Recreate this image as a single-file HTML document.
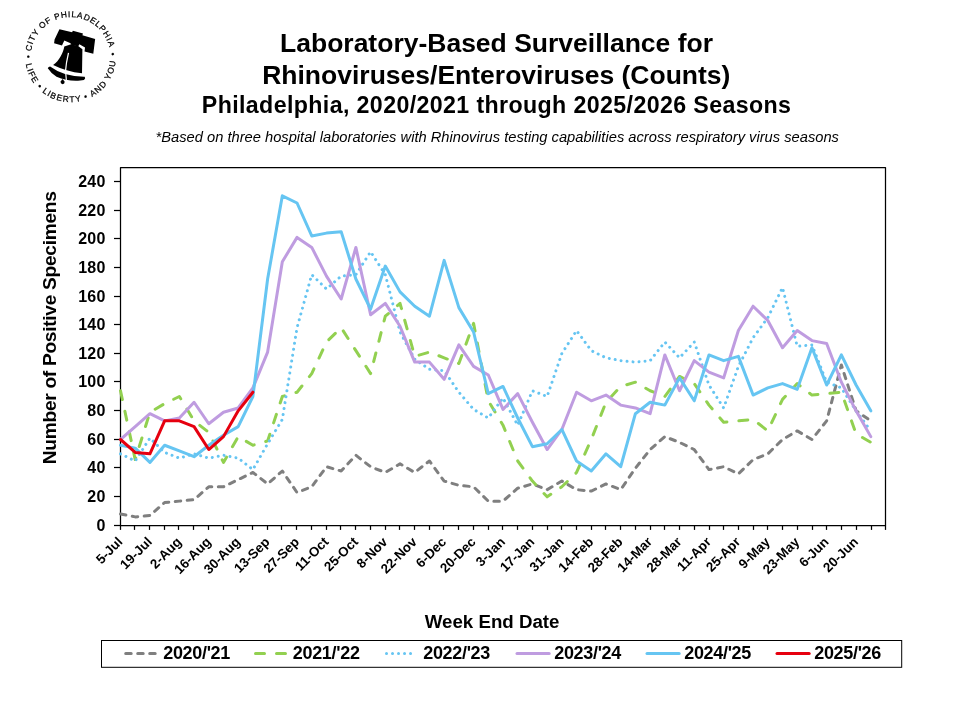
<!DOCTYPE html>
<html lang="en"><head><meta charset="utf-8"><title>Laboratory-Based Surveillance for Rhinoviruses/Enteroviruses (Counts)</title>
<style>
html,body{margin:0;padding:0;background:#fff;}
body{width:960px;height:720px;overflow:hidden;}
svg{display:block;will-change:transform;}
text{font-family:"Liberation Sans",Arial,Helvetica,sans-serif;fill:#000;}
.b{font-weight:bold;}
.ser{fill:none;stroke-width:3;stroke-linecap:round;stroke-linejoin:round;}
</style></head><body>
<svg width="960" height="720" viewBox="0 0 960 720">
<rect width="960" height="720" fill="#fff"/>

<text class="b" x="496.5" y="51.9" font-size="26.5" text-anchor="middle">Laboratory-Based Surveillance for</text>
<text class="b" x="496.3" y="83.9" font-size="26.5" text-anchor="middle">Rhinoviruses/Enteroviruses (Counts)</text>
<text class="b" x="496.6" y="113.2" font-size="23.2" letter-spacing="0.38" text-anchor="middle">Philadelphia, 2020/2021 through 2025/2026 Seasons</text>
<text x="497.25" y="142.1" font-size="14.69" font-style="italic" text-anchor="middle">*Based on three hospital laboratories with Rhinovirus testing capabilities across respiratory virus seasons</text>
<text class="b" font-size="19.2" letter-spacing="-0.31" text-anchor="middle" transform="translate(56.3,327.8) rotate(-90)">Number of Positive Specimens</text>
<text class="b" x="492.1" y="628.2" font-size="18.7" text-anchor="middle">Week End Date</text>
<rect x="120.5" y="167.5" width="765.0" height="358.0" fill="#fff" stroke="#000" stroke-width="1.25" stroke-linejoin="round"/>
<g stroke="#000" stroke-width="1.25"><line x1="114" y1="525.50" x2="120.5" y2="525.50"/><line x1="114" y1="496.50" x2="120.5" y2="496.50"/><line x1="114" y1="467.50" x2="120.5" y2="467.50"/><line x1="114" y1="439.50" x2="120.5" y2="439.50"/><line x1="114" y1="410.50" x2="120.5" y2="410.50"/><line x1="114" y1="381.50" x2="120.5" y2="381.50"/><line x1="114" y1="353.50" x2="120.5" y2="353.50"/><line x1="114" y1="324.50" x2="120.5" y2="324.50"/><line x1="114" y1="296.50" x2="120.5" y2="296.50"/><line x1="114" y1="267.50" x2="120.5" y2="267.50"/><line x1="114" y1="238.50" x2="120.5" y2="238.50"/><line x1="114" y1="210.50" x2="120.5" y2="210.50"/><line x1="114" y1="181.50" x2="120.5" y2="181.50"/><line x1="120.50" y1="525.5" x2="120.50" y2="529.9"/><line x1="134.50" y1="525.5" x2="134.50" y2="529.9"/><line x1="149.50" y1="525.5" x2="149.50" y2="529.9"/><line x1="164.50" y1="525.5" x2="164.50" y2="529.9"/><line x1="178.50" y1="525.5" x2="178.50" y2="529.9"/><line x1="193.50" y1="525.5" x2="193.50" y2="529.9"/><line x1="208.50" y1="525.5" x2="208.50" y2="529.9"/><line x1="223.50" y1="525.5" x2="223.50" y2="529.9"/><line x1="237.50" y1="525.5" x2="237.50" y2="529.9"/><line x1="252.50" y1="525.5" x2="252.50" y2="529.9"/><line x1="267.50" y1="525.5" x2="267.50" y2="529.9"/><line x1="281.50" y1="525.5" x2="281.50" y2="529.9"/><line x1="296.50" y1="525.5" x2="296.50" y2="529.9"/><line x1="311.50" y1="525.5" x2="311.50" y2="529.9"/><line x1="326.50" y1="525.5" x2="326.50" y2="529.9"/><line x1="340.50" y1="525.5" x2="340.50" y2="529.9"/><line x1="355.50" y1="525.5" x2="355.50" y2="529.9"/><line x1="370.50" y1="525.5" x2="370.50" y2="529.9"/><line x1="385.50" y1="525.5" x2="385.50" y2="529.9"/><line x1="399.50" y1="525.5" x2="399.50" y2="529.9"/><line x1="414.50" y1="525.5" x2="414.50" y2="529.9"/><line x1="429.50" y1="525.5" x2="429.50" y2="529.9"/><line x1="443.50" y1="525.5" x2="443.50" y2="529.9"/><line x1="458.50" y1="525.5" x2="458.50" y2="529.9"/><line x1="473.50" y1="525.5" x2="473.50" y2="529.9"/><line x1="488.50" y1="525.5" x2="488.50" y2="529.9"/><line x1="502.50" y1="525.5" x2="502.50" y2="529.9"/><line x1="517.50" y1="525.5" x2="517.50" y2="529.9"/><line x1="532.50" y1="525.5" x2="532.50" y2="529.9"/><line x1="547.50" y1="525.5" x2="547.50" y2="529.9"/><line x1="561.50" y1="525.5" x2="561.50" y2="529.9"/><line x1="576.50" y1="525.5" x2="576.50" y2="529.9"/><line x1="591.50" y1="525.5" x2="591.50" y2="529.9"/><line x1="605.50" y1="525.5" x2="605.50" y2="529.9"/><line x1="620.50" y1="525.5" x2="620.50" y2="529.9"/><line x1="635.50" y1="525.5" x2="635.50" y2="529.9"/><line x1="650.50" y1="525.5" x2="650.50" y2="529.9"/><line x1="664.50" y1="525.5" x2="664.50" y2="529.9"/><line x1="679.50" y1="525.5" x2="679.50" y2="529.9"/><line x1="694.50" y1="525.5" x2="694.50" y2="529.9"/><line x1="709.50" y1="525.5" x2="709.50" y2="529.9"/><line x1="723.50" y1="525.5" x2="723.50" y2="529.9"/><line x1="738.50" y1="525.5" x2="738.50" y2="529.9"/><line x1="753.50" y1="525.5" x2="753.50" y2="529.9"/><line x1="767.50" y1="525.5" x2="767.50" y2="529.9"/><line x1="782.50" y1="525.5" x2="782.50" y2="529.9"/><line x1="797.50" y1="525.5" x2="797.50" y2="529.9"/><line x1="812.50" y1="525.5" x2="812.50" y2="529.9"/><line x1="826.50" y1="525.5" x2="826.50" y2="529.9"/><line x1="841.50" y1="525.5" x2="841.50" y2="529.9"/><line x1="856.50" y1="525.5" x2="856.50" y2="529.9"/><line x1="871.50" y1="525.5" x2="871.50" y2="529.9"/><line x1="885.50" y1="525.5" x2="885.50" y2="529.9"/></g>
<text class="b" x="105.6" y="531.00" font-size="16" letter-spacing="0.25" text-anchor="end">0</text>
<text class="b" x="105.6" y="502.00" font-size="16" letter-spacing="0.25" text-anchor="end">20</text>
<text class="b" x="105.6" y="473.00" font-size="16" letter-spacing="0.25" text-anchor="end">40</text>
<text class="b" x="105.6" y="445.00" font-size="16" letter-spacing="0.25" text-anchor="end">60</text>
<text class="b" x="105.6" y="416.00" font-size="16" letter-spacing="0.25" text-anchor="end">80</text>
<text class="b" x="105.6" y="387.00" font-size="16" letter-spacing="0.25" text-anchor="end">100</text>
<text class="b" x="105.6" y="359.00" font-size="16" letter-spacing="0.25" text-anchor="end">120</text>
<text class="b" x="105.6" y="330.00" font-size="16" letter-spacing="0.25" text-anchor="end">140</text>
<text class="b" x="105.6" y="302.00" font-size="16" letter-spacing="0.25" text-anchor="end">160</text>
<text class="b" x="105.6" y="273.00" font-size="16" letter-spacing="0.25" text-anchor="end">180</text>
<text class="b" x="105.6" y="244.00" font-size="16" letter-spacing="0.25" text-anchor="end">200</text>
<text class="b" x="105.6" y="216.00" font-size="16" letter-spacing="0.25" text-anchor="end">220</text>
<text class="b" x="105.6" y="187.00" font-size="16" letter-spacing="0.25" text-anchor="end">240</text>
<text class="b" font-size="13.33" text-anchor="end" transform="translate(123.40,542.7) rotate(-45)">5-Jul</text>
<text class="b" font-size="13.33" text-anchor="end" transform="translate(152.82,542.7) rotate(-45)">19-Jul</text>
<text class="b" font-size="13.33" text-anchor="end" transform="translate(182.25,542.7) rotate(-45)">2-Aug</text>
<text class="b" font-size="13.33" text-anchor="end" transform="translate(211.67,542.7) rotate(-45)">16-Aug</text>
<text class="b" font-size="13.33" text-anchor="end" transform="translate(241.09,542.7) rotate(-45)">30-Aug</text>
<text class="b" font-size="13.33" text-anchor="end" transform="translate(270.52,542.7) rotate(-45)">13-Sep</text>
<text class="b" font-size="13.33" text-anchor="end" transform="translate(299.94,542.7) rotate(-45)">27-Sep</text>
<text class="b" font-size="13.33" text-anchor="end" transform="translate(329.36,542.7) rotate(-45)">11-Oct</text>
<text class="b" font-size="13.33" text-anchor="end" transform="translate(358.78,542.7) rotate(-45)">25-Oct</text>
<text class="b" font-size="13.33" text-anchor="end" transform="translate(388.21,542.7) rotate(-45)">8-Nov</text>
<text class="b" font-size="13.33" text-anchor="end" transform="translate(417.63,542.7) rotate(-45)">22-Nov</text>
<text class="b" font-size="13.33" text-anchor="end" transform="translate(447.05,542.7) rotate(-45)">6-Dec</text>
<text class="b" font-size="13.33" text-anchor="end" transform="translate(476.48,542.7) rotate(-45)">20-Dec</text>
<text class="b" font-size="13.33" text-anchor="end" transform="translate(505.90,542.7) rotate(-45)">3-Jan</text>
<text class="b" font-size="13.33" text-anchor="end" transform="translate(535.32,542.7) rotate(-45)">17-Jan</text>
<text class="b" font-size="13.33" text-anchor="end" transform="translate(564.75,542.7) rotate(-45)">31-Jan</text>
<text class="b" font-size="13.33" text-anchor="end" transform="translate(594.17,542.7) rotate(-45)">14-Feb</text>
<text class="b" font-size="13.33" text-anchor="end" transform="translate(623.59,542.7) rotate(-45)">28-Feb</text>
<text class="b" font-size="13.33" text-anchor="end" transform="translate(653.02,542.7) rotate(-45)">14-Mar</text>
<text class="b" font-size="13.33" text-anchor="end" transform="translate(682.44,542.7) rotate(-45)">28-Mar</text>
<text class="b" font-size="13.33" text-anchor="end" transform="translate(711.86,542.7) rotate(-45)">11-Apr</text>
<text class="b" font-size="13.33" text-anchor="end" transform="translate(741.28,542.7) rotate(-45)">25-Apr</text>
<text class="b" font-size="13.33" text-anchor="end" transform="translate(770.71,542.7) rotate(-45)">9-May</text>
<text class="b" font-size="13.33" text-anchor="end" transform="translate(800.13,542.7) rotate(-45)">23-May</text>
<text class="b" font-size="13.33" text-anchor="end" transform="translate(829.55,542.7) rotate(-45)">6-Jun</text>
<text class="b" font-size="13.33" text-anchor="end" transform="translate(858.98,542.7) rotate(-45)">20-Jun</text>
<path class="ser" d="M120.50,514.03 L135.21,516.90 L149.92,515.47 L164.63,502.57 L179.35,501.13 L194.06,499.70 L208.77,486.80 L223.48,486.80 L238.19,479.63 L252.90,472.47 L267.62,483.93 L282.33,471.03 L297.04,492.53 L311.75,486.80 L326.46,466.73 L341.17,471.03 L355.88,455.27 L370.60,466.73 L385.31,472.47 L400.02,463.87 L414.73,472.47 L429.44,461.00 L444.15,481.07 L458.87,485.37 L473.58,486.80 L488.29,501.13 L503.00,501.13 L517.71,488.23 L532.42,483.93 L547.13,489.67 L561.85,481.07 L576.56,489.67 L591.27,491.10 L605.98,483.93 L620.69,489.67 L635.40,468.17 L650.12,449.53 L664.83,436.63 L679.54,442.37 L694.25,449.53 L708.96,469.60 L723.67,466.73 L738.38,473.90 L753.10,459.57 L767.81,453.83 L782.52,439.50 L797.23,430.90 L811.94,439.50 L826.65,420.87 L841.37,364.97 L856.08,410.83 L870.79,420.87" stroke="#7F7F7F" stroke-dasharray="5.5 6.5"/>
<path class="ser" d="M120.50,390.77 L135.21,459.57 L149.92,412.27 L164.63,403.67 L179.35,396.50 L194.06,420.87 L208.77,432.33 L223.48,462.43 L238.19,436.63 L252.90,445.23 L267.62,440.93 L282.33,396.50 L297.04,392.20 L311.75,373.57 L326.46,342.03 L341.17,327.70 L355.88,350.63 L370.60,373.57 L385.31,316.23 L400.02,303.33 L414.73,356.37 L429.44,352.07 L444.15,357.80 L458.87,363.53 L473.58,323.40 L488.29,400.80 L503.00,425.17 L517.71,461.00 L532.42,481.07 L547.13,496.83 L561.85,486.80 L576.56,472.47 L591.27,439.50 L605.98,402.23 L620.69,386.47 L635.40,382.17 L650.12,390.77 L664.83,396.50 L679.54,376.43 L694.25,383.60 L708.96,405.10 L723.67,422.30 L738.38,420.87 L753.10,419.43 L767.81,430.90 L782.52,399.37 L797.23,383.60 L811.94,395.07 L826.65,393.63 L841.37,392.20 L856.08,433.77 L870.79,442.37" stroke="#92D050" stroke-dasharray="9 12"/>
<path class="ser" d="M120.50,453.83 L135.21,461.00 L149.92,438.07 L164.63,452.40 L179.35,458.13 L194.06,453.83 L208.77,458.13 L223.48,455.27 L238.19,458.13 L252.90,469.60 L267.62,443.80 L282.33,419.43 L297.04,327.70 L311.75,274.67 L326.46,289.00 L341.17,276.10 L355.88,274.67 L370.60,251.73 L385.31,274.67 L400.02,332.00 L414.73,359.23 L429.44,369.27 L444.15,370.70 L458.87,392.20 L473.58,409.40 L488.29,418.00 L503.00,397.93 L517.71,425.17 L532.42,390.77 L547.13,396.50 L561.85,353.50 L576.56,330.57 L591.27,350.63 L605.98,357.80 L620.69,360.67 L635.40,362.10 L650.12,360.67 L664.83,342.03 L679.54,357.80 L694.25,342.03 L708.96,385.03 L723.67,407.97 L738.38,366.40 L753.10,337.73 L767.81,317.67 L782.52,287.57 L797.23,346.33 L811.94,344.90 L826.65,382.17 L841.37,387.90 L856.08,410.83 L870.79,430.90" stroke="#66C5F2" stroke-dasharray="0.01 6" stroke-width="2.7"/>
<path class="ser" d="M120.50,439.50 L135.21,426.60 L149.92,413.70 L164.63,420.87 L179.35,418.00 L194.06,402.23 L208.77,423.73 L223.48,412.27 L238.19,407.97 L252.90,387.90 L267.62,352.07 L282.33,261.77 L297.04,237.40 L311.75,247.43 L326.46,276.10 L341.17,299.03 L355.88,247.43 L370.60,314.80 L385.31,303.33 L400.02,326.27 L414.73,362.10 L429.44,362.10 L444.15,379.30 L458.87,344.90 L473.58,366.40 L488.29,375.00 L503.00,409.40 L517.71,393.63 L532.42,422.30 L547.13,449.53 L561.85,429.47 L576.56,392.20 L591.27,400.80 L605.98,395.07 L620.69,405.10 L635.40,407.97 L650.12,413.70 L664.83,354.93 L679.54,390.77 L694.25,360.67 L708.96,372.13 L723.67,377.87 L738.38,330.57 L753.10,306.20 L767.81,320.53 L782.52,347.77 L797.23,330.57 L811.94,340.60 L826.65,343.47 L841.37,382.17 L856.08,410.83 L870.79,436.63" stroke="#BF9CE0"/>
<path class="ser" d="M120.50,445.23 L135.21,448.10 L149.92,462.43 L164.63,445.23 L179.35,450.97 L194.06,456.70 L208.77,445.23 L223.48,435.20 L238.19,426.60 L252.90,396.50 L267.62,278.97 L282.33,195.83 L297.04,203.00 L311.75,235.97 L326.46,233.10 L341.17,231.67 L355.88,278.97 L370.60,309.07 L385.31,266.07 L400.02,291.87 L414.73,306.20 L429.44,316.23 L444.15,260.33 L458.87,307.63 L473.58,332.00 L488.29,393.63 L503.00,386.47 L517.71,418.00 L532.42,446.67 L547.13,443.80 L561.85,429.47 L576.56,461.00 L591.27,471.03 L605.98,453.83 L620.69,466.73 L635.40,413.70 L650.12,402.23 L664.83,405.10 L679.54,377.87 L694.25,400.80 L708.96,354.93 L723.67,360.67 L738.38,356.37 L753.10,395.07 L767.81,387.90 L782.52,383.60 L797.23,389.33 L811.94,347.77 L826.65,385.03 L841.37,354.93 L856.08,385.03 L870.79,410.83" stroke="#66C5F2"/>
<path class="ser" d="M120.50,439.50 L135.21,452.40 L149.92,453.83 L164.63,420.87 L179.35,420.87 L194.06,426.60 L208.77,449.53 L223.48,436.63 L238.19,410.83 L252.90,392.20" stroke="#E6000F"/>
<rect x="101.5" y="640.5" width="800.2" height="26.8" fill="#fff" stroke="#000" stroke-width="1"/>
<path class="ser" d="M125.7,653.4 L155.7,653.4" stroke="#7F7F7F" stroke-dasharray="5.5 6.5"/>
<text class="b" x="163.2" y="658.9" font-size="18" letter-spacing="-0.32">2020/'21</text>
<path class="ser" d="M255.5,653.4 L285.5,653.4" stroke="#92D050" stroke-dasharray="9 12"/>
<text class="b" x="292.8" y="658.9" font-size="18" letter-spacing="-0.32">2021/'22</text>
<path class="ser" d="M386.5,653.4 L416.5,653.4" stroke="#66C5F2" stroke-dasharray="0.01 6"/>
<text class="b" x="423.2" y="658.9" font-size="18" letter-spacing="-0.32">2022/'23</text>
<path class="ser" d="M517.0,653.4 L549.2,653.4" stroke="#BF9CE0"/>
<text class="b" x="554.2" y="658.9" font-size="18" letter-spacing="-0.32">2023/'24</text>
<path class="ser" d="M647.0,653.4 L679.2,653.4" stroke="#66C5F2"/>
<text class="b" x="684.2" y="658.9" font-size="18" letter-spacing="-0.32">2024/'25</text>
<path class="ser" d="M777.0,653.4 L809.2,653.4" stroke="#E6000F"/>
<text class="b" x="814.2" y="658.9" font-size="18" letter-spacing="-0.32">2025/'26</text>
<defs><path id="arcTop" d="M36.05,76.95 A39.90,39.90 0 1 1 105.15,76.95"/>
<path id="arcBot" d="M31.46,34.40 A45.20,45.20 0 1 0 109.74,34.40"/></defs>
<g transform="rotate(-2.5 70.6 57.0)">
<text font-size="8.4" letter-spacing="0.75" stroke="#000" stroke-width="0.25" text-anchor="middle"><textPath href="#arcTop" startOffset="50%">CITY OF PHILADELPHIA</textPath></text>
<text font-size="8.4" letter-spacing="1.1" stroke="#000" stroke-width="0.25" text-anchor="middle"><textPath href="#arcBot" startOffset="50%">&#8226;<tspan dx="1.4"> LIFE &#8226; LIBERTY &#8226; AND YOU </tspan><tspan dx="1.4">&#8226;</tspan></textPath></text>
</g>
<g transform="translate(40,20) scale(0.09725)" fill="#000">
<path d="M200,95 L330,125 L338,110 L442,138 L436,158 L567,195 L548,348 L458,325 L463,283 L405,250 L392,272 L320,255 L314,238 L250,210 L226,262 L145,240 L150,200 Z"/>
<path d="M250,272 L320,250 L392,268 L436,300 L432,547 Q270,530 135,462 C200,420 240,330 250,272 Z"/>
<path d="M293,338 C278,400 266,470 262,528" stroke="#fff" stroke-width="13" fill="none"/>
<path d="M80,497 Q88,480 104,478 Q248,585 460,583 Q472,600 452,616 C380,632 260,626 170,584 Q115,552 80,497 Z"/>
<path d="M264,540 L272,628" stroke="#fff" stroke-width="12" fill="none"/>
<path d="M233,606 L254,636 Q255,660 232,661 Q209,656 211,632 Z"/>
</g>
</svg></body></html>
